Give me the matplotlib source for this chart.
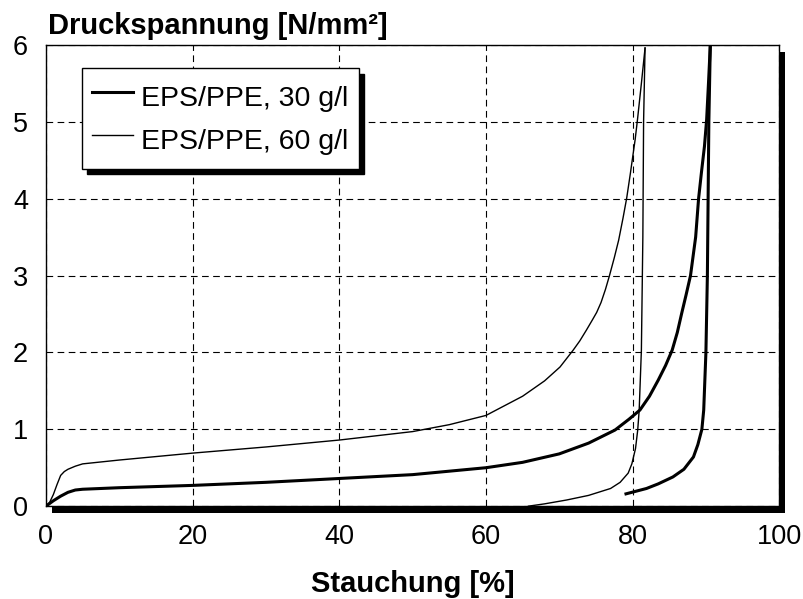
import matplotlib
matplotlib.use("Agg")
import matplotlib.pyplot as plt
from matplotlib.patches import Rectangle

plt.rcParams['font.family'] = ['Liberation Sans', 'DejaVu Sans']

# 30 g/l - loading and unloading
x30_load = [0, 1, 2, 3, 4, 5, 10, 20, 30, 40, 50, 60, 65, 70, 74, 77.6, 79.5, 81,
            82.3, 83.5, 84.5, 85.4, 86.1, 86.7, 87.3, 87.9, 88.6, 89.0, 89.4, 89.8,
            90.1, 90.35, 90.6]
y30_load = [0, 0.07, 0.13, 0.18, 0.21, 0.22, 0.24, 0.27, 0.31, 0.36, 0.41, 0.50, 0.57,
            0.68, 0.82, 0.99, 1.13, 1.25, 1.43, 1.64, 1.83, 2.03, 2.26, 2.51, 2.75,
            3.0, 3.5, 4.0, 4.35, 4.68, 5.03, 5.5, 6.0]
x30_unload = [90.6, 90.4, 90.3, 90.2, 90.0, 89.7, 89.45, 88.9, 88.3, 87.0, 85.5, 83.5,
              81.9, 79.1]
y30_unload = [6.0, 5.0, 4.0, 3.0, 2.0, 1.25, 1.0, 0.8, 0.64, 0.48, 0.38, 0.29, 0.23, 0.16]

# 60 g/l - loading and unloading
x60_load = [0, 0.5, 1, 1.5, 2, 2.5, 3, 4, 5, 10, 20, 30, 40, 50, 55, 60, 62, 65, 68,
            70.1, 71.9, 72.8, 73.7, 74.5, 75.1, 75.7, 76.3, 76.85, 77.5, 78.1, 78.7,
            79.2, 79.7, 80.35, 80.67, 81.2, 81.7]
y60_load = [0, 0.05, 0.15, 0.28, 0.40, 0.45, 0.48, 0.52, 0.55, 0.60, 0.69, 0.77, 0.86,
            0.97, 1.06, 1.18, 1.28, 1.43, 1.63, 1.81, 2.03, 2.15, 2.29, 2.42, 2.52, 2.65,
            2.82, 3.0, 3.23, 3.46, 3.75, 4.01, 4.33, 4.77, 5.03, 5.5, 5.96]
x60_unload = [81.7, 81.5, 81.4, 81.2, 80.9, 80.7, 80.4, 79.9, 79.4, 78.3, 77.0, 74.0,
              71.0, 68.0, 65.8]
y60_unload = [5.96, 5.0, 3.5, 2.03, 1.25, 0.99, 0.75, 0.55, 0.43, 0.31, 0.23, 0.14,
              0.08, 0.03, 0.0]

xticks = [0, 20, 40, 60, 80, 100]
yticks = [0, 1, 2, 3, 4, 5, 6]

fig = plt.figure(figsize=(8.04, 5.99), dpi=100)
ax = fig.add_axes([0.0572, 0.155, 0.912, 0.77])

# drop shadow behind the plot frame
fig.patches.append(Rectangle((0.0572 + 6 / 804, 0.155 - 7 / 599), 0.912, 0.77,
                             transform=fig.transFigure, facecolor='black',
                             edgecolor='none', zorder=-1))

ax.plot(x30_load, y30_load, color='black', lw=2.2, label='EPS/PPE, 30 g/l')
ax.plot(x30_unload, y30_unload, color='black', lw=2.2)
ax.plot(x60_load, y60_load, color='black', lw=1.0, label='EPS/PPE, 60 g/l')
ax.plot(x60_unload, y60_unload, color='black', lw=1.0)

ax.set_xlim(0, 100)
ax.set_ylim(0, 6)
ax.set_xticks(xticks)
ax.set_yticks(yticks)
ax.tick_params(length=0, labelsize=19.5, pad=13)
ax.grid(True, color='black', lw=0.8, linestyle=(0, (6, 4)))
for s in ax.spines.values():
    s.set_linewidth(1.0)

ax.set_xlabel('Stauchung [%]', fontsize=21, fontweight='bold', labelpad=14)
fig.text(48 / 804, 1 - 34 / 599, 'Druckspannung [N/mm²]', fontsize=21,
         fontweight='bold', ha='left', va='baseline')

ax.legend(loc='upper left', bbox_to_anchor=(0.0487, 0.9495), borderaxespad=0,
          fontsize=20.5, frameon=True, fancybox=False, edgecolor='black',
          framealpha=1, handlelength=1.45, handletextpad=0.3, borderpad=0.35,
          handleheight=1.65, labelspacing=0.2,
          shadow={'ox': 4, 'oy': -4, 'color': 'black', 'alpha': 1})
ax.get_legend().get_frame().set_linewidth(1.0)

fig.savefig('out.png', dpi=100)
